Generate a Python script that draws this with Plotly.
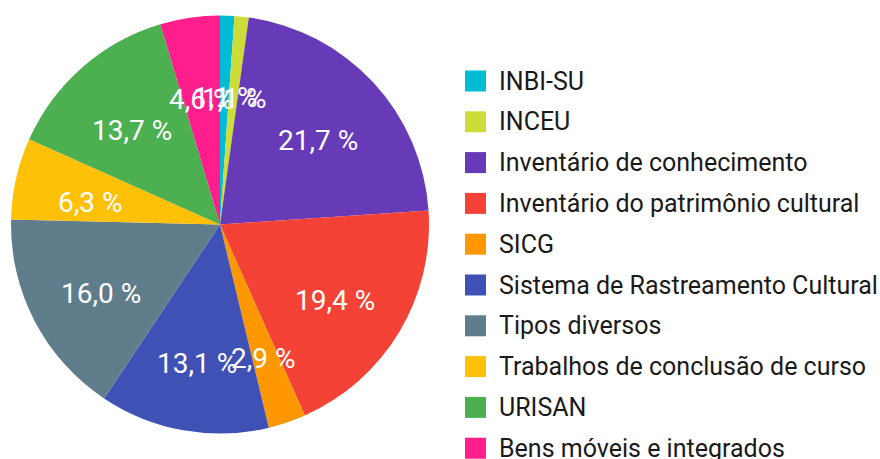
import math
import plotly.graph_objects as go

# Categories and their shares (percent)
categories = [
    "INBI-SU",
    "INCEU",
    "Inventário de conhecimento",
    "Inventário do patrimônio cultural",
    "SICG",
    "Sistema de Rastreamento Cultural",
    "Tipos diversos",
    "Trabalhos de conclusão de curso",
    "URISAN",
    "Bens móveis e integrados",
]
shares = [1.1, 1.1, 21.7, 19.4, 2.9, 13.1, 16.0, 6.3, 13.7, 4.6]
colors = [
    "#00BCD4", "#CDDC39", "#673AB7", "#F44336", "#FF9800",
    "#3F51B5", "#607D8B", "#FFC107", "#4CAF50", "#FF1E8C",
]

W, H = 880, 459
CX, CY, R = 220, 224.5, 209  # pie centre and radius in pixels
FONT = "Roboto"

fig = go.Figure()
fig.add_trace(go.Pie(
    labels=categories,
    values=shares,
    sort=False,
    direction="clockwise",
    rotation=0,
    marker=dict(colors=colors, line=dict(width=0)),
    textinfo="none",
    hoverinfo="label+percent",
    showlegend=False,
    domain=dict(
        x=[(CX - R) / W, (CX + R) / W],
        y=[(H - CY - R) / H, (H - CY + R) / H],
    ),
))

annotations = []
shapes = []

# Value labels placed along each slice bisector
total = sum(shares)
cum = 0.0
for v in shares:
    mid = (cum + v / 2) / total * 2 * math.pi
    cum += v
    px = CX + 0.64 * R * math.sin(mid)
    py = CY - 0.64 * R * math.cos(mid)
    annotations.append(dict(
        x=px / W, y=(H - py) / H, xref="paper", yref="paper",
        text=f"{v:.1f}".replace(".", ",") + " %",
        showarrow=False, xanchor="center", yanchor="middle", yshift=-7,
        font=dict(family=FONT, size=28, color="#FFFFFF"),
    ))

# Legend: coloured squares with category names
LEG_X0, LEG_Y0, LEG_STEP, SQ = 465, 81, 40.8, 21
for i, (name, c) in enumerate(zip(categories, colors)):
    yc = LEG_Y0 + i * LEG_STEP
    shapes.append(dict(
        type="rect", xref="paper", yref="paper",
        x0=LEG_X0 / W, x1=(LEG_X0 + SQ) / W,
        y0=(H - yc - SQ / 2) / H, y1=(H - yc + SQ / 2) / H,
        fillcolor=c, line=dict(width=0),
    ))
    annotations.append(dict(
        x=(LEG_X0 + SQ + 11) / W, y=(H - yc) / H, xref="paper", yref="paper",
        text=name, showarrow=False, xanchor="left", yanchor="middle",
        font=dict(family=FONT, size=25, color="#1A1A1A"),
    ))

fig.update_layout(
    width=W, height=H,
    margin=dict(l=0, r=0, t=0, b=0),
    paper_bgcolor="#FFFFFF",
    plot_bgcolor="#FFFFFF",
    annotations=annotations,
    shapes=shapes,
)

fig.write_html("out.html", config={"displayModeBar": False})
